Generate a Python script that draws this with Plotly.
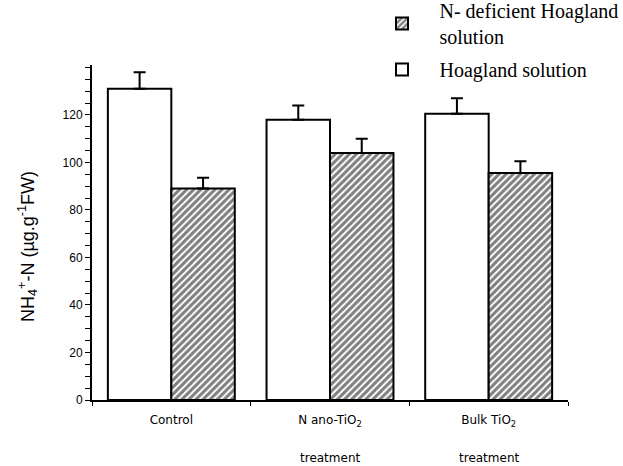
import plotly.graph_objects as go

categories = ["Control", "N ano-TiO<sub>2</sub>", "Bulk TiO<sub>2</sub>"]
second_line = ["", "treatment", "treatment"]
hoagland = [131, 118, 120.5]
hoagland_err = [7, 6, 6.5]
deficient = [89, 104, 95.5]
deficient_err = [4.5, 6, 5]
y_ticks = [0, 20, 40, 60, 80, 100, 120]

fig = go.Figure()
fig.add_trace(go.Bar(
    x=categories, y=hoagland, name="Hoagland solution", legendgroup="a",
    legendrank=2,
    marker=dict(color="white", line=dict(color="black", width=2)),
    error_y=dict(type="data", array=hoagland_err, arrayminus=[0] * 3,
                 color="black", thickness=2, width=6),
))
fig.add_trace(go.Bar(
    x=categories, y=deficient, name="N- deficient Hoagland<br>solution",
    legendgroup="b", legendrank=1,
    marker=dict(color="white", line=dict(color="black", width=2),
                pattern=dict(shape="/", fgcolor="black", bgcolor="white",
                             size=5, solidity=0.6)),
    error_y=dict(type="data", array=deficient_err, arrayminus=[0] * 3,
                 color="black", thickness=2, width=6),
))

for c, t in zip(categories, second_line):
    if t:
        fig.add_annotation(x=c, y=0, xref="x", yref="paper", yshift=-58,
                           yanchor="middle", xanchor="center",
                           text=t, showarrow=False,
                           font=dict(family="DejaVu Sans", size=12, color="black"))

fig.add_annotation(x=(28 - 92) / 476, y=0.457, xref="paper", yref="paper",
                   xanchor="center", yanchor="middle",
                   text="NH<sub>4</sub><sup>+</sup>-N (µg.g<sup>-1</sup>FW)",
                   textangle=-90, showarrow=False,
                   font=dict(family="Arial", size=18, color="black"))

fig.update_layout(
    width=623, height=466,
    margin=dict(l=92, r=55, t=65, b=66, autoexpand=False),
    paper_bgcolor="white", plot_bgcolor="white",
    barmode="group", bargap=0.2, bargroupgap=0,
    showlegend=True,
    legend=dict(x=0.5725, y=1.221, xref="paper", yref="paper",
                xanchor="left", yanchor="top",
                traceorder="grouped", tracegroupgap=4, itemwidth=65,
                font=dict(family="Liberation Serif", size=20, color="black"),
                bgcolor="rgba(0,0,0,0)"),
    xaxis=dict(type="category", range=[-0.5, 2.5], showline=True,
               linecolor="black", linewidth=2, ticks="outside",
               tickson="boundaries", ticklen=4, tickcolor="black",
               ticklabelstandoff=8,
               tickfont=dict(family="DejaVu Sans", size=12, color="black"),
               showgrid=False, zeroline=False),
    yaxis=dict(range=[0, 141], showline=True, linecolor="black", linewidth=2,
               ticks="outside", ticklen=5, tickcolor="black",
               tickvals=y_ticks, showgrid=False, zeroline=False,
               tickfont=dict(family="Arial", size=12, color="black"),
               minor=dict(dtick=5, ticks="outside", ticklen=5,
                          tickcolor="black", showgrid=False)),
)

fig.write_html("out.html")
